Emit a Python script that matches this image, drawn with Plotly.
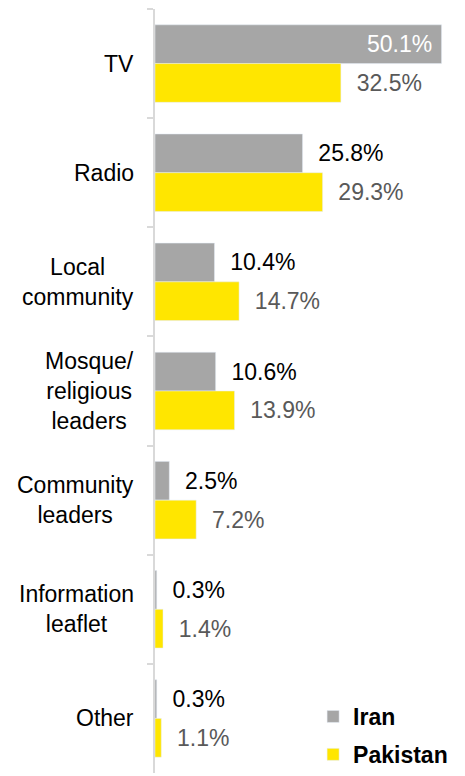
import plotly.graph_objects as go

categories = ["TV", "Radio", "Local community", "Mosque/religious leaders",
              "Community leaders", "Information leaflet", "Other"]
category_labels = ["TV", "Radio", "Local<br>community", "Mosque/<br>religious<br>leaders",
                   "Community<br>leaders", "Information<br>leaflet", "Other"]
iran = [50.1, 25.8, 10.4, 10.6, 2.5, 0.3, 0.3]
pakistan = [32.5, 29.3, 14.7, 13.9, 7.2, 1.4, 1.1]

FONT = "Liberation Sans, Arial, sans-serif"
NB = "\u00a0"

def labels(vals, inside_idx=()):
    out = []
    for i, v in enumerate(vals):
        if i in inside_idx:
            out.append(f"{v:.1f}%" + NB)
        else:
            out.append(NB * 2 + f"{v:.1f}%")
    return out

iran_pos = ["inside" if v > 40 else "outside" for v in iran]
pak_pos = ["inside" if v > 40 else "outside" for v in pakistan]

fig = go.Figure()
fig.add_trace(go.Bar(
    name="Iran", y=categories, x=iran, orientation="h", legendgroup="iran",
    marker=dict(color="#A6A6A6"),
    text=labels(iran, [i for i, p in enumerate(iran_pos) if p == "inside"]),
    textposition=iran_pos, insidetextanchor="end",
    insidetextfont=dict(color="white", size=23, family=FONT),
    outsidetextfont=dict(color="#000000", size=23, family=FONT),
    constraintext="none", cliponaxis=False, hoverinfo="skip",
))
fig.add_trace(go.Bar(
    name="Pakistan", y=categories, x=pakistan, orientation="h", legendgroup="pak",
    marker=dict(color="#FFE600"),
    text=labels(pakistan, [i for i, p in enumerate(pak_pos) if p == "inside"]),
    textposition=pak_pos, insidetextanchor="end",
    insidetextfont=dict(color="white", size=23, family=FONT),
    outsidetextfont=dict(color="#595959", size=23, family=FONT),
    constraintext="none", cliponaxis=False, hoverinfo="skip",
))

for cat, lab in zip(categories, category_labels):
    fig.add_annotation(
        x=0, xref="paper", y=cat, yref="y", text=lab, showarrow=False,
        xanchor="right", align="center", xshift=-19,
        font=dict(size=23, color="#000000", family=FONT),
    )

fig.update_layout(
    width=465, height=776,
    margin=dict(l=155, r=0, t=9, b=1),
    paper_bgcolor="white", plot_bgcolor="white",
    barmode="group", bargap=0.29, bargroupgap=0,
    font=dict(family=FONT, size=23, color="#000000"),
    xaxis=dict(visible=False, range=[0, 54.2]),
    yaxis=dict(
        type="category", categoryorder="array", categoryarray=categories,
        autorange="reversed", showticklabels=False, showgrid=False, zeroline=False,
        showline=True, linecolor="#D9D9D9", linewidth=2,
        ticks="outside", tickson="boundaries", ticklen=6, tickcolor="#D9D9D9", tickwidth=2,
    ),
    yaxis2=dict(
        type="category", categoryorder="array", categoryarray=categories,
        overlaying="y", side="left", anchor="x", range=[6.5, -0.5],
        showticklabels=False, showgrid=False, zeroline=False, showline=False,
        ticks="inside", tickson="boundaries", ticklen=6, tickcolor="#D9D9D9", tickwidth=2,
    ),
    legend=dict(
        x=0.51, xanchor="left", y=-0.004, yanchor="bottom",
        font=dict(size=23, color="#000000", family=FONT, weight="bold"),
        bgcolor="rgba(0,0,0,0)", tracegroupgap=5, itemclick=False,
        traceorder="grouped",
    ),
    showlegend=True,
)

fig.write_html("out.html", config={"displayModeBar": False},
               post_script="document.body.style.margin='0';")
